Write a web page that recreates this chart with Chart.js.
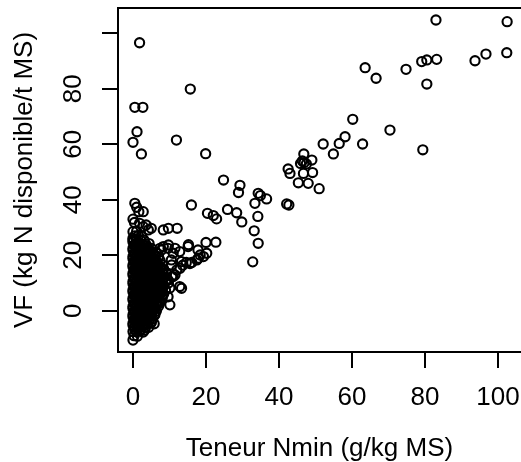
<!DOCTYPE html>
<html>
<head>
<meta charset="utf-8">
<script src="https://cdn.jsdelivr.net/npm/chart.js@4.4.1/dist/chart.umd.min.js"></script>
<style>
  html, body { margin: 0; padding: 0; background: #fff; overflow: hidden; }
  canvas { display: block; }
</style>
</head>
<body>
<canvas id="scatter" width="521" height="462"></canvas>
<script>
/* globals Chart:false */

const xTicks = [0, 20, 40, 60, 80, 100]
const yTicks = [0, 20, 40, 60, 80, 100]
const yTickLabels = ['0', '20', '40', '60', '80', '']   // R drops the top label
const xTitle = 'Teneur Nmin (g/kg MS)'
const yTitle = 'VF (kg N disponible/t MS)'

// [Nmin, VF] pairs
const highNmin = [
  [83.0, 104.8], [102.5, 104.2], [102.4, 93.0], [96.7, 92.5], [93.7, 90.1],
  [83.2, 90.6], [80.5, 90.4], [79.1, 89.8], [80.5, 81.7], [74.8, 87.0],
  [63.6, 87.6], [66.6, 83.8], [60.2, 69.0], [70.4, 65.1], [79.4, 58.0],
  [62.9, 60.1], [58.1, 62.7], [56.5, 60.3], [54.9, 56.5], [52.1, 60.1],
  [46.8, 56.5], [45.9, 53.1], [46.9, 53.4], [47.5, 52.9], [46.4, 54.0],
  [49.0, 54.3], [42.5, 51.1], [43.0, 49.5], [46.7, 49.5], [49.2, 49.8],
  [45.3, 46.1], [48.0, 45.9], [51.0, 44.0], [42.1, 38.5], [42.7, 38.1]
]

const midNmin = [
  [36.6, 40.3], [34.9, 41.5], [34.3, 42.3], [33.4, 38.7], [34.2, 34.0],
  [19.9, 56.6], [24.8, 47.1], [29.3, 45.2], [28.9, 42.6], [16.0, 38.1],
  [20.4, 35.1], [22.0, 34.3], [22.9, 33.1], [25.9, 36.5], [28.4, 35.3],
  [29.8, 32.0], [33.2, 28.8], [34.3, 24.3], [32.8, 17.6]
]

const upperLeft = [
  [1.8, 96.6], [15.7, 79.9], [0.5, 73.3], [2.7, 73.3], [1.1, 64.5],
  [0.0, 60.7], [2.3, 56.5], [11.9, 61.5]
]

const clusterTop = [
  [0.5, 38.7], [1.0, 37.3], [1.6, 35.7], [2.8, 35.7], [0.4, 31.8],
  [0.0, 33.0], [1.8, 31.5], [2.8, 30.3], [3.6, 30.9], [4.2, 29.1],
  [5.0, 29.7], [8.3, 29.1], [9.7, 29.7], [12.1, 29.7], [0.0, 26.1],
  [7.4, 22.5], [8.3, 23.1], [9.7, 23.7], [11.5, 22.5], [7.8, 21.9],
  [9.6, 22.5], [11.0, 20.7], [12.8, 21.3], [10.5, 18.3], [15.1, 23.1],
  [15.2, 23.8], [17.8, 21.9], [20.0, 24.6], [22.7, 24.7]
]

const diagonalBand = [
  [9.6, 11.1], [11.0, 12.3], [12.8, 8.7], [13.3, 8.1], [10.1, 8.2],
  [9.7, 10.0], [12.0, 14.7], [12.9, 15.3], [11.5, 12.9], [10.6, 12.3],
  [10.6, 16.5], [13.3, 17.7], [13.6, 16.4], [14.6, 17.4], [15.6, 17.0],
  [16.1, 17.4], [17.5, 18.3], [17.9, 18.9], [18.4, 20.1], [19.3, 19.5],
  [20.2, 20.7]
]

const lowerEdge = [
  [0.0, -10.6], [3.2, -7.0], [5.8, -4.7], [5.0, -4.3], [5.9, -1.5],
  [7.3, 2.7], [9.6, 5.0], [10.1, 2.1]
]

const denseCluster = [
  [0.3, -9], [1.2, -9.2],
  [0, -7.5], [0.9, -7.6], [1.9, -7.4], [2.8, -7.7],
  [0.4, -6], [1.4, -6.2], [2.4, -5.9], [3.4, -6.1], [4.3, -6],
  [0, -4.5], [1.0, -4.6], [2.0, -4.4], [3.0, -4.5], [4.0, -4.7], [4.9, -4.4],
  [0.5, -3], [1.5, -3.1], [2.5, -2.9], [3.5, -3], [4.5, -3.2], [5.4, -3],
  [0, -1.5], [1.0, -1.4], [2.0, -1.6], [3.0, -1.5], [4.0, -1.4], [5.0, -1.6], [6.0, -1.5],
  [0.5, 0], [1.5, 0.1], [2.5, -0.1], [3.5, 0], [4.5, 0.2], [5.5, 0], [6.4, -0.1],
  [0, 1.5], [1.0, 1.6], [2.0, 1.4], [3.0, 1.5], [4.0, 1.7], [5.0, 1.5], [6.0, 1.4], [7.0, 1.6],
  [0.5, 3], [1.5, 3.1], [2.5, 2.9], [3.5, 3], [4.5, 3.2], [5.5, 3], [6.5, 2.9], [7.4, 3.1],
  [0, 4.5], [1.0, 4.4], [2.0, 4.6], [3.0, 4.5], [4.0, 4.3], [5.0, 4.5], [6.0, 4.7], [7.0, 4.5], [8.0, 4.4],
  [0.5, 6], [1.5, 6.1], [2.5, 5.9], [3.5, 6], [4.5, 6.2], [5.5, 6], [6.5, 5.8], [7.5, 6.1], [8.4, 6],
  [0, 7.5], [1.0, 7.6], [2.0, 7.4], [3.0, 7.5], [4.0, 7.7], [5.0, 7.5], [6.0, 7.3], [7.0, 7.5], [8.0, 7.6], [8.9, 7.4],
  [0.5, 9], [1.5, 9.1], [2.5, 8.9], [3.5, 9], [4.5, 9.2], [5.5, 9], [6.5, 8.8], [7.5, 9.1], [8.5, 9],
  [0, 10.5], [1.0, 10.4], [2.0, 10.6], [3.0, 10.5], [4.0, 10.3], [5.0, 10.5], [6.0, 10.7], [7.0, 10.5], [8.0, 10.4], [9.0, 10.6],
  [0.5, 12], [1.5, 12.1], [2.5, 11.9], [3.5, 12], [4.5, 12.2], [5.5, 12], [6.5, 11.8], [7.5, 12.1], [8.5, 12],
  [0, 13.5], [1.0, 13.6], [2.0, 13.4], [3.0, 13.5], [4.0, 13.7], [5.0, 13.5], [6.0, 13.3], [7.0, 13.5], [8.0, 13.6], [9.2, 13.4],
  [0.5, 15], [1.5, 14.9], [2.5, 15.1], [3.5, 15], [4.5, 14.8], [5.5, 15], [6.5, 15.2], [7.5, 15], [8.4, 14.9],
  [0, 16.5], [1.0, 16.6], [2.0, 16.4], [3.0, 16.5], [4.0, 16.7], [5.0, 16.5], [6.0, 16.3], [7.0, 16.5], [8.0, 16.6],
  [0.5, 18], [1.5, 18.1], [2.5, 17.9], [3.5, 18], [4.5, 18.2], [5.5, 18], [6.5, 17.8], [7.4, 18.1],
  [0, 19.5], [1.0, 19.4], [2.0, 19.6], [3.0, 19.5], [4.0, 19.3], [5.0, 19.5], [6.0, 19.7], [7.0, 19.5],
  [0.5, 21], [1.5, 21.1], [2.5, 20.9], [3.5, 21], [4.5, 21.2], [5.5, 21], [6.4, 20.8],
  [0, 22.5], [1.0, 22.6], [2.0, 22.4], [3.0, 22.5], [4.0, 22.7], [5.0, 22.5],
  [0.5, 24], [1.5, 24.1], [2.5, 23.9], [3.5, 24], [4.4, 24.2],
  [0, 25.5], [1.0, 25.4], [2.0, 25.6], [3.0, 25.5],
  [0.5, 27], [1.5, 27.1], [2.4, 26.9],
  [0, 28.5], [1.0, 28.6]
]

// second layer of the dark core, between the rows above
const denseCore = [
  [0.5, -6.75], [2.0, -6.8],
  [0.0, -5.25], [1.5, -5.3], [3.0, -5.2],
  [0.5, -3.75], [2.0, -3.8], [3.5, -3.7],
  [0.0, -2.25], [1.5, -2.3], [3.0, -2.2], [4.5, -2.25],
  [0.5, -0.75], [2.0, -0.8], [3.5, -0.7], [5.0, -0.75],
  [0.0, 0.75], [1.5, 0.7], [3.0, 0.8], [4.5, 0.75], [6.0, 0.7],
  [0.5, 2.25], [2.0, 2.2], [3.5, 2.3], [5.0, 2.25], [6.5, 2.2],
  [0.0, 3.75], [1.5, 3.8], [3.0, 3.7], [4.5, 3.75], [6.0, 3.8],
  [0.5, 5.25], [2.0, 5.2], [3.5, 5.3], [5.0, 5.25], [6.5, 5.2], [8.0, 5.3],
  [0.0, 6.75], [1.5, 6.7], [3.0, 6.8], [4.5, 6.75], [6.0, 6.7], [7.5, 6.8],
  [0.5, 8.25], [2.0, 8.2], [3.5, 8.3], [5.0, 8.25], [6.5, 8.2], [8.0, 8.3],
  [0.0, 9.75], [1.5, 9.7], [3.0, 9.8], [4.5, 9.75], [6.0, 9.7], [7.5, 9.8],
  [0.5, 11.25], [2.0, 11.2], [3.5, 11.3], [5.0, 11.25], [6.5, 11.2], [8.0, 11.3],
  [0.0, 12.75], [1.5, 12.7], [3.0, 12.8], [4.5, 12.75], [6.0, 12.7], [7.5, 12.8],
  [0.5, 14.25], [2.0, 14.2], [3.5, 14.3], [5.0, 14.25], [6.5, 14.2], [8.0, 14.3],
  [0.0, 15.75], [1.5, 15.7], [3.0, 15.8], [4.5, 15.75], [6.0, 15.7], [7.5, 15.8],
  [0.5, 17.25], [2.0, 17.2], [3.5, 17.3], [5.0, 17.25], [6.5, 17.2],
  [0.0, 18.75], [1.5, 18.7], [3.0, 18.8], [4.5, 18.75], [6.0, 18.7],
  [0.5, 20.25], [2.0, 20.2], [3.5, 20.3], [5.0, 20.25],
  [0.0, 21.75], [1.5, 21.7], [3.0, 21.8], [4.5, 21.75],
  [0.5, 23.25], [2.0, 23.2], [3.5, 23.3],
  [0.0, 24.75], [1.5, 24.7]
]

const allPoints = [].concat(highNmin, midNmin, upperLeft, clusterTop, diagonalBand, lowerEdge, denseCluster, denseCore)
  .map(p => ({ x: p[0], y: p[1] }))

const fontFamily = '"Liberation Sans", Arial, Helvetica, sans-serif'

// top frame line + rotated y tick labels (R style)
const frame = {
  id: 'frame',
  afterDraw(chart) {
    const { ctx, chartArea, scales } = chart
    ctx.save()
    ctx.strokeStyle = '#000'
    ctx.lineWidth = 2
    ctx.beginPath()
    ctx.moveTo(chartArea.left - 1, chartArea.top)
    ctx.lineTo(chartArea.right, chartArea.top)
    ctx.stroke()

    ctx.fillStyle = '#000'
    ctx.font = '26px ' + fontFamily
    ctx.textAlign = 'center'
    ctx.textBaseline = 'middle'
    scales.y.ticks.forEach((t, i) => {
      const py = scales.y.getPixelForValue(t.value)
      ctx.save()
      ctx.translate(chartArea.left - 45.5, py)
      ctx.rotate(-Math.PI / 2)
      ctx.fillText(yTickLabels[i], 0, 1)
      ctx.restore()
    })
    ctx.restore()
  }
}

const ctx = document.getElementById('scatter')
new Chart(ctx, {
  type: 'scatter',
  data: {
    datasets: [{
      data: allPoints,
      pointStyle: 'circle',
      pointRadius: 4.6,
      pointHoverRadius: 4.6,
      borderWidth: 2.1,
      borderColor: '#000',
      backgroundColor: 'rgba(0,0,0,0)'
    }]
  },
  options: {
    responsive: false,
    animation: false,
    devicePixelRatio: 1,
    layout: { autoPadding: false, padding: { top: 8, right: 0, bottom: 0, left: 0 } },
    plugins: {
      legend: { display: false },
      tooltip: { enabled: false }
    },
    scales: {
      x: {
        type: 'linear',
        min: -4.11,
        max: 106.3,
        afterBuildTicks: s => { s.ticks = xTicks.map(v => ({ value: v })) },
        afterFit: s => { s.height = 110; s.paddingLeft = 0; s.paddingRight = 0 },
        grid: { drawOnChartArea: false, drawTicks: true, tickLength: 16, lineWidth: 2, color: '#000' },
        border: { display: true, color: '#000', width: 2 },
        ticks: { color: '#000', font: { family: fontFamily, size: 26 }, padding: 14, maxRotation: 0 },
        title: {
          display: true, text: xTitle, color: '#000',
          font: { family: fontFamily, size: 26, lineHeight: 1 },
          padding: { top: 0, bottom: 0 }
        }
      },
      y: {
        type: 'linear',
        min: -14.89,
        max: 109.12,
        afterBuildTicks: s => { s.ticks = yTicks.map(v => ({ value: v })) },
        afterFit: s => { s.width = 118; s.paddingTop = 0; s.paddingBottom = 0 },
        grid: { drawOnChartArea: false, drawTicks: true, tickLength: 16, lineWidth: 2, color: '#000' },
        border: { display: true, color: '#000', width: 2 },
        ticks: { display: false },
        title: {
          display: true, text: yTitle, color: '#000',
          font: { family: fontFamily, size: 26, lineHeight: 1 },
          padding: { top: 12, bottom: 0 }
        }
      }
    }
  },
  plugins: [frame]
})
</script>
</body>
</html>
